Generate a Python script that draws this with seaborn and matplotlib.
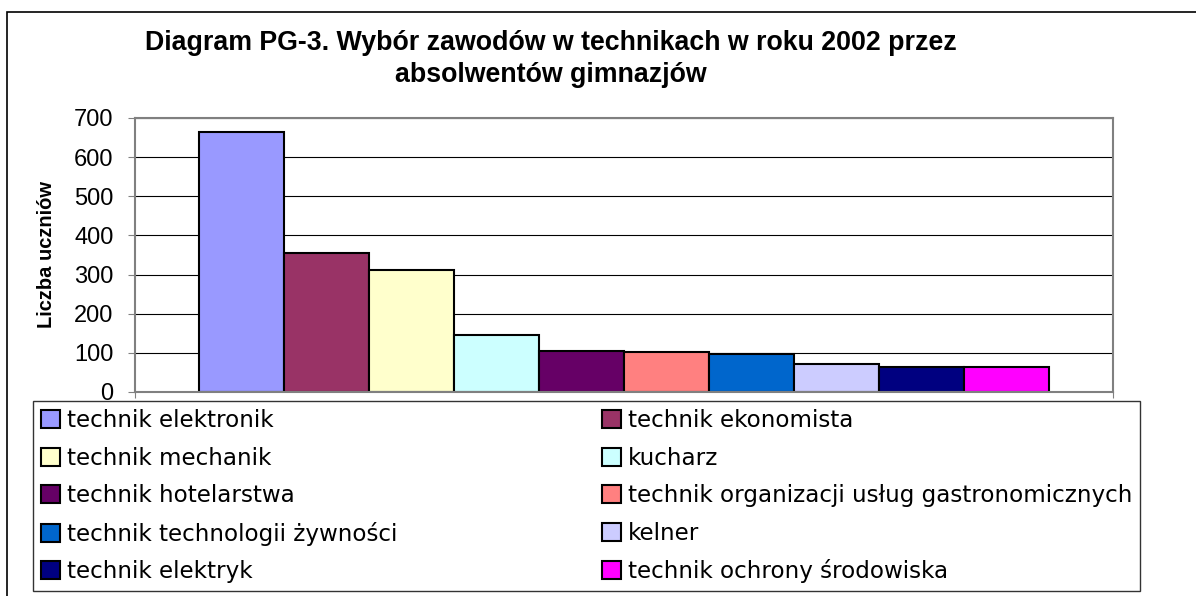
import pandas as pd
import seaborn as sns
import matplotlib.pyplot as plt
import matplotlib.patches as mpatches

zawody = ['technik elektronik', 'technik ekonomista', 'technik mechanik', 'kucharz',
          'technik hotelarstwa', 'technik organizacji usług gastronomicznych',
          'technik technologii żywności', 'kelner', 'technik elektryk',
          'technik ochrony środowiska']
liczba = [665, 356, 311, 145, 104, 102, 96, 72, 65, 64]
kolory = ['#9999FF', '#993366', '#FFFFCC', '#CCFFFF', '#660066',
          '#FF8080', '#0066CC', '#CCCCFF', '#000080', '#FF00FF']
yticks = [0, 100, 200, 300, 400, 500, 600, 700]

df = pd.DataFrame({'grupa': [''] * len(zawody), 'zawod': zawody, 'liczba': liczba})

sns.set_style('white', {'text.color': 'black', 'axes.labelcolor': 'black',
                        'xtick.color': 'black', 'ytick.color': 'black'})
plt.rcParams['font.family'] = ['Liberation Sans', 'DejaVu Sans']

fig = plt.figure(figsize=(11.96, 5.96), dpi=100)
ax = fig.add_axes([135 / 1196, 1 - 392 / 596, 978 / 1196, 274 / 596])

sns.barplot(data=df, x='grupa', y='liczba', hue='zawod', palette=kolory,
            saturation=1, width=0.87, edgecolor='black', linewidth=1.5,
            legend=False, ax=ax)

ax.set_ylim(0, 700)
ax.set_xlim(-0.5, 0.5)
ax.set_yticks(yticks)
ax.yaxis.grid(True, color='black', linewidth=0.8)
ax.set_axisbelow(True)
ax.set_xticks([-0.5, 0.5])
ax.set_xticklabels(['', ''])
ax.tick_params(axis='x', length=4, color='#808080', bottom=True)
ax.tick_params(axis='y', labelsize=17, length=5, color='#808080', labelcolor='black',
               pad=10.5, left=True)
ax.set_xlabel('')
ax.set_ylabel('Liczba uczniów', fontsize=14.5, fontweight='bold', va='center')
ax.yaxis.set_label_coords(-0.09, 0.5)
for s in ax.spines.values():
    s.set_visible(True)
    s.set_color('#808080')
    s.set_linewidth(1.5)

fig.text(551 / 1196, 1 - 59 / 596, 'Diagram PG-3. Wybór zawodów w technikach w roku 2002 przez\nabsolwentów gimnazjów',
         ha='center', va='center', fontsize=19.3, fontweight='bold', linespacing=1.27)

# legenda: wiersze jak w oryginale (dwie kolumny, kolejność wierszami)
uchwyty = [mpatches.Patch(facecolor=k, edgecolor='black', linewidth=1.5) for k in kolory]
kolejnosc = list(range(0, 10, 2)) + list(range(1, 10, 2))
leg = fig.legend([uchwyty[i] for i in kolejnosc], [zawody[i] for i in kolejnosc],
                 ncol=2, loc='upper left', mode='expand',
                 bbox_to_anchor=(33 / 1196, 0, 1107 / 1196, 1 - 401 / 596),
                 borderaxespad=0, prop={'family': 'DejaVu Sans', 'size': 16.6},
                 frameon=True, fancybox=False,
                 handlelength=0.82, handleheight=0.82, handletextpad=0.3,
                 labelspacing=0.63, borderpad=0.35, columnspacing=1.0)
leg.get_frame().set_edgecolor('black')
leg.get_frame().set_linewidth(1.0)

# ramka całego wykresu
fig.patches.append(mpatches.Rectangle((7 / 1196, -0.1), 1.2, 1.1 - 12 / 596,
                                      transform=fig.transFigure, fill=False,
                                      edgecolor='black', linewidth=1.2))

fig.savefig('out.png', dpi=100)
